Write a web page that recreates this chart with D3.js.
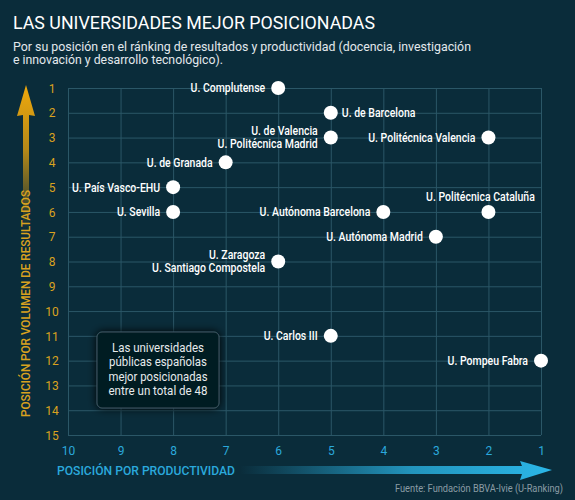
<!DOCTYPE html>
<html>
<head>
<meta charset="utf-8">
<script src="https://cdn.jsdelivr.net/npm/d3@7"></script>
<style>
  html, body { margin: 0; padding: 0; background: #0a2c3a; }
  svg { display: block; }
  text { font-family: "Roboto", "Liberation Sans", sans-serif; }
</style>
</head>
<body>
<div id="chart"></div>
<script>
// data
const universidades = [
  'U. Complutense',
  'U. de Barcelona',
  'U. de Valencia\nU. Politécnica Madrid',
  'U. Politécnica Valencia',
  'U. de Granada',
  'U. País Vasco-EHU',
  'U. Sevilla',
  'U. Autónoma Barcelona',
  'U. Politécnica Cataluña',
  'U. Autónoma Madrid',
  'U. Zaragoza\nU.  Santiago Compostela',
  'U. Carlos III',
  'U. Pompeu Fabra'
]
const productividad = [6, 5, 5, 2, 7, 8, 8, 4, 2, 3, 6, 5, 1]
const resultados = [1, 2, 3, 3, 4, 5, 6, 6, 6, 7, 8, 11, 12]
const xTicks = [10, 9, 8, 7, 6, 5, 4, 3, 2, 1]
const yTicks = d3.range(1, 16)

const titulo = 'LAS UNIVERSIDADES MEJOR POSICIONADAS'
const subtitulo = [
  'Por su posición en el ránking de resultados y productividad (docencia, investigación',
  'e innovación y desarrollo tecnológico).'
]
const nota = ['Las universidades', 'públicas españolas', 'mejor posicionadas', 'entre un total de 48']
const fuente = 'Fuente: Fundación BBVA-Ivie (U-Ranking)'

const width = 575
const height = 500
const margin = {top: 88, right: 34, bottom: 65, left: 68}
const GOLD = '#d9a21f'
const BLUE = '#2aa9dc'
const GRID = '#2b5767'
const NARROW = 0.84 // the original face is a condensed sans

const svg = d3.select('#chart').append('svg')
  .attr('width', width)
  .attr('height', height)

const defs = svg.append('defs')
const gx = defs.append('linearGradient').attr('id', 'gradX')
  .attr('x1', 0).attr('x2', 1).attr('y1', 0).attr('y2', 0)
gx.append('stop').attr('offset', '0%').attr('stop-color', '#2bb7e8').attr('stop-opacity', 0)
gx.append('stop').attr('offset', '55%').attr('stop-color', '#2bb7e8').attr('stop-opacity', 0.75)
gx.append('stop').attr('offset', '100%').attr('stop-color', '#2bb7e8').attr('stop-opacity', 1)
const gy = defs.append('linearGradient').attr('id', 'gradY')
  .attr('x1', 0).attr('x2', 0).attr('y1', 0).attr('y2', 1)
gy.append('stop').attr('offset', '0%').attr('stop-color', '#f0a90c').attr('stop-opacity', 1)
gy.append('stop').attr('offset', '45%').attr('stop-color', '#e0a010').attr('stop-opacity', 0.8)
gy.append('stop').attr('offset', '100%').attr('stop-color', '#e0a010').attr('stop-opacity', 0)
const glow = defs.append('filter').attr('id', 'glow')
  .attr('x', '-20%').attr('y', '-30%').attr('width', '140%').attr('height', '160%')
glow.append('feGaussianBlur').attr('in', 'SourceAlpha').attr('stdDeviation', 4)
glow.append('feMerge').call(m => {
  m.append('feMergeNode')
  m.append('feMergeNode').attr('in', 'SourceGraphic')
})

svg.append('rect')
  .attr('width', width).attr('height', height)
  .attr('fill', '#0a2c3a')

// fixed texts are squeezed to the widths of the original
const fit = (sel, w) => sel.attr('textLength', w).attr('lengthAdjust', 'spacingAndGlyphs')

// titles
svg.append('text')
  .attr('x', 13).attr('y', 29)
  .attr('fill', '#ffffff')
  .style('font-size', '19px')
  .text(titulo)
  .call(fit, 362)

svg.selectAll('.sub')
  .data(subtitulo)
  .join('text')
  .attr('class', 'sub')
  .attr('x', 13)
  .attr('y', (d, i) => 51 + i * 13)
  .attr('fill', '#e2e8ec')
  .style('font-size', '13px')
  .text(d => d)
  .each(function(d, i) { fit(d3.select(this), i === 0 ? 458 : 210) })

// scales
const x = d3.scaleLinear().domain([10, 1]).range([margin.left, width - margin.right])
const y = d3.scaleLinear().domain([1, 15]).range([margin.top, height - margin.bottom])

// axes used as grid
const xAxis = svg.append('g')
  .attr('transform', `translate(0,${y(15)})`)
  .call(d3.axisBottom(x).tickValues(xTicks).tickSize(-(y(15) - y(1))).tickFormat(d3.format('d')))
xAxis.select('.domain').remove()
xAxis.selectAll('.tick line').attr('stroke', GRID)
xAxis.selectAll('.tick text')
  .attr('y', 16).attr('dy', '0.35em')
  .attr('fill', BLUE)
  .style('font-size', '12px')
  .style('font-family', 'Roboto, sans-serif')

const yAxis = svg.append('g')
  .attr('transform', `translate(${x(10)},0)`)
  .call(d3.axisLeft(y).tickValues(yTicks).tickSize(-(x(1) - x(10))).tickFormat(d3.format('d')))
yAxis.select('.domain').remove()
yAxis.selectAll('.tick line').attr('stroke', GRID)
yAxis.selectAll('.tick text')
  .attr('x', -16).attr('dy', '0.35em')
  .attr('text-anchor', 'middle')
  .attr('fill', GOLD)
  .style('font-size', '12px')
  .style('font-family', 'Roboto, sans-serif')

// axis arrows and titles
svg.append('path')
  .attr('d', 'M240,466 L522,466 L520,461 L552,470 L520,480 L522,474 L240,474 Z')
  .attr('fill', 'url(#gradX)')
svg.append('text')
  .attr('x', 57).attr('y', 474.5)
  .attr('fill', BLUE)
  .style('font-size', '12px')
  .style('font-weight', 500)
  .text('POSICIÓN POR PRODUCTIVIDAD')
  .call(fit, 178)

svg.append('path')
  .attr('d', 'M23,230 L23,115 L17,116 L26,85 L35,116 L29,115 L29,230 Z')
  .attr('fill', 'url(#gradY)')
svg.append('text')
  .attr('transform', 'translate(30,417) rotate(-90)')
  .attr('fill', GOLD)
  .style('font-size', '12px')
  .style('font-weight', 500)
  .text('POSICIÓN POR VOLUMEN DE RESULTADOS')
  .call(fit, 227)

// note box
const box = svg.append('g')
box.append('rect')
  .attr('x', 97).attr('y', 332)
  .attr('width', 122).attr('height', 76)
  .attr('rx', 5)
  .attr('fill', '#061a22')
  .attr('stroke', '#3e5862')
  .attr('filter', 'url(#glow)')
box.selectAll('.nota')
  .data(nota)
  .join('text')
  .attr('class', 'nota')
  .attr('x', 158)
  .attr('y', (d, i) => 351.5 + i * 14.5)
  .attr('fill', '#e6eaec')
  .attr('text-anchor', 'middle')
  .style('font-size', '13.5px')
  .text(d => d)
  .each(function(d, i) { fit(d3.select(this), [92, 98, 99, 99][i]) })

// points
const data = universidades.map((name, i) => ({
  name, x: productividad[i], y: resultados[i]
}))

svg.append('g')
  .selectAll('circle')
  .data(data)
  .join('circle')
  .attr('cx', d => x(d.x))
  .attr('cy', d => y(d.y))
  .attr('r', 7)
  .attr('fill', '#ffffff')

// label placement: most sit left of the point
const side = name => name === 'U. de Barcelona' ? 'right'
  : name === 'U. Politécnica Cataluña' ? 'above' : 'left'

const labels = svg.append('g')
  .attr('fill', '#ffffff')
  .style('font-size', '12.5px')
  .style('font-weight', 500)
  .style('white-space', 'pre')
  .selectAll('text')
  .data(data)
  .join('text')
  .attr('text-anchor', d => ({left: 'end', right: 'start', above: 'middle'})[side(d.name)])
  .attr('transform', d => {
    const s = side(d.name)
    const dx = s === 'left' ? -13 : s === 'right' ? 11 : -8
    const dy = s === 'above' ? -15 : 0
    return `translate(${x(d.x) + dx},${y(d.y) + dy}) scale(${NARROW},1)`
  })

labels.each(function(d) {
  const lines = d.name.split('\n')
  d3.select(this).selectAll('tspan')
    .data(lines)
    .join('tspan')
    .attr('x', 0)
    .attr('y', (l, i) => (i - (lines.length - 1) / 2) * 13)
    .attr('dy', '0.35em')
    .text(l => l)
})

svg.append('text')
  .attr('x', 563).attr('y', 492)
  .attr('text-anchor', 'end')
  .attr('fill', '#8b9ca5')
  .style('font-size', '11px')
  .text(fuente)
  .call(fit, 168)
</script>
</body>
</html>
